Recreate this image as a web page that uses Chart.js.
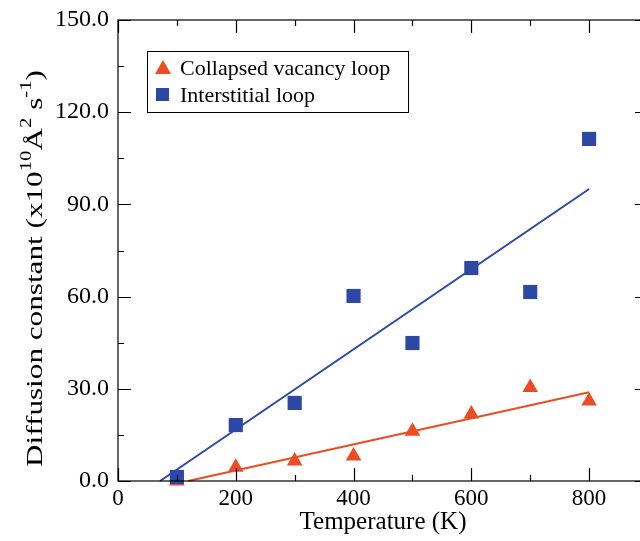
<!DOCTYPE html>
<html>
<head>
  <title>Diffusion constant vs temperature</title>
  <style>
    html, body { margin: 0; padding: 0; background: #fff; overflow: hidden; }
    #wrap { width: 640px; height: 541px; overflow: hidden; }
    #box { position: relative; width: 660px; height: 541px; }
  </style>
</head>
<body>
  <div id="wrap"><div id="box"><canvas id="chart"></canvas></div></div>

  <script src="https://cdn.jsdelivr.net/npm/chart.js"></script>
  <script>
    // values
    const temperatures = [100, 200, 300, 400, 500, 600, 700, 800];
    const vacancyLoop = [0.0, 4.5, 6.5, 8.1, 16.2, 21.8, 30.4, 26.0];
    const interstitialLoop = [1.3, 18.2, 25.4, 60.2, 44.9, 69.3, 61.5, 111.3];

    // fitted lines (end points)
    const vacancyFitX = [119, 800];
    const vacancyFitY = [0, 28.9];
    const interstitialFitX = [71.5, 800];
    const interstitialFitY = [0, 95.0];

    const xTicks = [0, 200, 400, 600, 800];
    const yTicks = [0, 30, 60, 90, 120, 150];

    const RED = "#ea4d23";
    const BLUE = "#2b48a6";
    const FONT = "'Liberation Serif', 'Times New Roman', serif";

    const pts = (xs, ys) => xs.map((x, i) => ({ x: x, y: ys[i] }));

    // inward ticks on all four sides + frame + legend
    const frameTicks = {
      id: "frameTicks",
      afterDraw(chart) {
        const { ctx, chartArea: a, scales: { x, y } } = chart;
        ctx.save();
        ctx.strokeStyle = "#000";
        ctx.lineWidth = 1.2;
        ctx.strokeRect(a.left, a.top, a.right - a.left, a.bottom - a.top);
        ctx.beginPath();
        for (let v = 0; v <= 900; v += 100) {
          const px = Math.round(x.getPixelForValue(v)) + 0.5;
          const len = v % 200 === 0 ? 13 : 6;
          ctx.moveTo(px, a.bottom); ctx.lineTo(px, a.bottom - len);
          ctx.moveTo(px, a.top); ctx.lineTo(px, a.top + len);
        }
        for (let v = 0; v <= 150; v += 15) {
          const py = Math.round(y.getPixelForValue(v)) + 0.5;
          const len = v % 30 === 0 ? 13 : 6;
          ctx.moveTo(a.left, py); ctx.lineTo(a.left + len, py);
          ctx.moveTo(a.right, py); ctx.lineTo(a.right - len, py);
        }
        ctx.stroke();

        // legend box
        const lx = 147, ly = 51, lw = 261, lh = 61;
        ctx.lineWidth = 1;
        ctx.strokeStyle = "#000";
        ctx.strokeRect(lx + 0.5, ly + 0.5, lw, lh);
        ctx.font = "22px " + FONT;
        ctx.fillStyle = "#000";
        ctx.textBaseline = "alphabetic";
        ctx.fillText("Collapsed vacancy loop", 180, 75);
        ctx.fillText("Interstitial loop", 180, 102);
        ctx.fillStyle = RED;
        ctx.beginPath();
        ctx.moveTo(163, 60); ctx.lineTo(171, 74); ctx.lineTo(155, 74); ctx.closePath();
        ctx.fill();
        ctx.fillStyle = BLUE;
        ctx.fillRect(156, 88, 13, 13);
        ctx.restore();
      }
    };

    // y axis title with superscripts, stretched along its length like the reference
    const yTitle = {
      id: "yTitle",
      afterDraw(chart) {
        const { ctx } = chart;
        const parts = [
          ["Diffusion constant (x10", 24, 0],
          ["10", 16, -11],
          ["\u00C5", 24, 0],
          ["2", 16, -11],
          [" s", 24, 0],
          ["-1", 16, -11],
          [")", 24, 0]
        ];
        ctx.save();
        let w = 0;
        parts.forEach(p => { ctx.font = p[1] + "px " + FONT; w += ctx.measureText(p[0]).width; });
        const bottom = 467, top = 70;
        const sx = (bottom - top) / w;
        ctx.translate(42, bottom);
        ctx.rotate(-Math.PI / 2);
        ctx.scale(sx, 1);
        ctx.fillStyle = "#000";
        ctx.textBaseline = "alphabetic";
        let cx = 0;
        parts.forEach(p => {
          ctx.font = p[1] + "px " + FONT;
          ctx.fillText(p[0], cx, p[2]);
          cx += ctx.measureText(p[0]).width;
        });
        ctx.restore();
      }
    };

    new Chart(document.getElementById("chart"), {
      type: "scatter",
      data: {
        datasets: [
          {
            label: "Collapsed vacancy loop",
            data: pts(temperatures, vacancyLoop),
            pointStyle: "triangle",
            pointRadius: 9,
            backgroundColor: RED,
            borderWidth: 0,
            order: 2
          },
          {
            label: "Interstitial loop",
            data: pts(temperatures, interstitialLoop),
            pointStyle: "rect",
            pointRadius: 10,
            backgroundColor: BLUE,
            borderWidth: 0,
            order: 1
          },
          {
            label: "vacancy fit",
            data: pts(vacancyFitX, vacancyFitY),
            showLine: true,
            pointRadius: 0,
            borderColor: RED,
            borderWidth: 2,
            order: 0
          },
          {
            label: "interstitial fit",
            data: pts(interstitialFitX, interstitialFitY),
            showLine: true,
            pointRadius: 0,
            borderColor: BLUE,
            borderWidth: 2,
            order: 0
          }
        ]
      },
      options: {
        responsive: true,
        maintainAspectRatio: false,
        animation: false,
        clip: false,
        layout: { padding: { top: 20, right: 12, left: 0, bottom: 0 } },
        plugins: { legend: { display: false }, tooltip: { enabled: false } },
        scales: {
          x: {
            type: "linear",
            min: 0,
            max: 900,
            afterBuildTicks: s => { s.ticks = xTicks.map(v => ({ value: v })); },
            afterFit: s => { s.height = 60; },
            grid: { display: false, drawTicks: false, tickLength: 0 },
            border: { display: false },
            ticks: {
              color: "#000",
              padding: 4,
              font: { family: FONT, size: 23 }
            },
            title: {
              display: true,
              text: "Temperature (K)",
              color: "#000",
              padding: { top: 0 },
              font: { family: FONT, size: 25 }
            }
          },
          y: {
            type: "linear",
            min: 0,
            max: 150,
            afterBuildTicks: s => { s.ticks = yTicks.map(v => ({ value: v })); },
            afterFit: s => { s.width = 118; s.paddingTop = 0; s.paddingBottom = 0; },
            grid: { display: false, drawTicks: false, tickLength: 0 },
            border: { display: false },
            ticks: {
              color: "#000",
              padding: 9,
              font: { family: FONT, size: 24, lineHeight: 1 },
              callback: v => v.toFixed(1)
            }
          }
        }
      },
      plugins: [frameTicks, yTitle]
    });
  </script>
</body>
</html>
